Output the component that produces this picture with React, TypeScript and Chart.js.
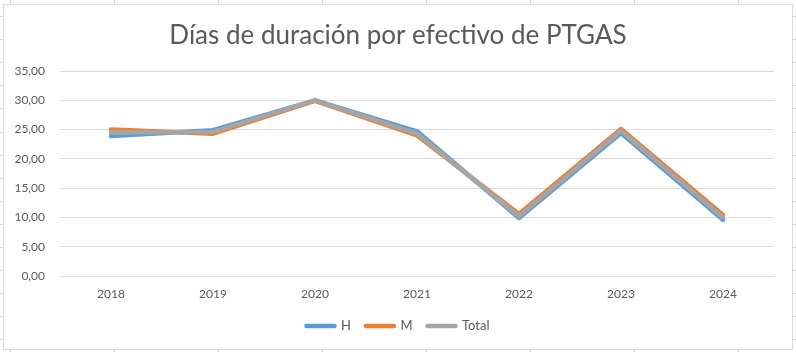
import React, { useEffect, useRef } from "react";
import { Chart, registerables } from "chart.js";

Chart.register(...registerables);

const title = "Días de duración por efectivo de PTGAS";
const categories = ["2018", "2019", "2020", "2021", "2022", "2023", "2024"];
const seriesH = [23.9, 24.9, 30.0, 24.7, 9.9, 24.4, 9.6];
const seriesM = [25.0, 24.3, 29.9, 24.0, 10.6, 25.1, 10.4];
const seriesTotal = [24.5, 24.6, 30.0, 24.3, 10.2, 24.8, 10.0];
const seriesNames = ["H", "M", "Total"];
const seriesColors = ["#5B9BD5", "#ED7D31", "#A5A5A5"];
const yMin = 0;
const yMax = 35;
const yStep = 5;

const FONT = "Lato, 'Noto Sans', sans-serif";
const TEXT = "#595959";

export default function App() {
  const ref = useRef<HTMLCanvasElement | null>(null);

  useEffect(() => {
    if (!ref.current) return;
    const values = [seriesH, seriesM, seriesTotal];
    const chart = new Chart(ref.current, {
      type: "line",
      data: {
        labels: categories,
        datasets: values.map((v, i) => ({
          label: seriesNames[i],
          data: v,
          yAxisID: "y",
          borderColor: seriesColors[i],
          backgroundColor: seriesColors[i],
          borderWidth: 4.5,
          pointRadius: 0,
          pointHoverRadius: 0,
          tension: 0,
          borderCapStyle: "round" as const,
          borderJoinStyle: "round" as const,
          order: 3 - i,
        })),
      },
      options: {
        animation: false,
        responsive: false,
        maintainAspectRatio: false,
        layout: { padding: { left: 4, right: 4, top: 4, bottom: 9.5 } },
        plugins: {
          title: {
            display: true,
            text: title,
            color: TEXT,
            font: { family: FONT, size: 26, weight: "normal", lineHeight: 1.2 },
            padding: { top: 16, bottom: 19.8 },
          },
          legend: {
            position: "bottom",
            labels: {
              color: TEXT,
              font: { family: FONT, size: 13 },
              usePointStyle: true,
              pointStyleWidth: 28,
              padding: 15,
              generateLabels: (c: any) =>
                c.data.datasets.map((d: any, i: number) => ({
                  text: d.label,
                  fillStyle: d.borderColor,
                  strokeStyle: d.borderColor,
                  lineWidth: 4.5,
                  lineCap: "round",
                  pointStyle: "line",
                  fontColor: TEXT,
                  hidden: false,
                  datasetIndex: i,
                })),
            },
          },
          tooltip: { enabled: false },
        },
        scales: {
          x: {
            offset: true,
            grid: { display: false, drawTicks: false },
            border: { display: false },
            ticks: { color: TEXT, font: { family: FONT, size: 12 }, padding: 11, maxRotation: 0 },
            afterFit: (s: any) => {
              s.height = 28.5;
            },
          },
          y: {
            min: yMin,
            max: yMax,
            grid: { color: "#D9D9D9", lineWidth: 1, drawTicks: false },
            border: { display: false },
            ticks: {
              stepSize: yStep,
              color: TEXT,
              font: { family: FONT, size: 12 },
              padding: 15,
              callback: (v: any) => Number(v).toFixed(2).replace(".", ","),
            },
            afterFit: (s: any) => {
              s.width = 56;
            },
          },
          yRight: {
            type: "linear",
            position: "right",
            grid: { display: false, drawTicks: false },
            border: { display: false },
            ticks: { display: false },
            afterFit: (s: any) => {
              s.width = 18;
            },
          },
        },
      },
    });
    return () => chart.destroy();
  }, []);

  const bg = {
    position: "absolute" as const,
    left: 0,
    top: 0,
    width: 796,
    height: 352,
    backgroundColor: "#ffffff",
    backgroundImage:
      "repeating-linear-gradient(to right, transparent 0px, transparent 10px, #D4D4D4 10px, #D4D4D4 11px, transparent 11px, transparent 104px), repeating-linear-gradient(to bottom, transparent 0px, transparent 16px, #D4D4D4 16px, #D4D4D4 17px, transparent 17px, transparent 23.1px)",
  };

  return (
    <div style={bg}>
      <div
        style={{
          position: "absolute",
          left: 3,
          top: 4,
          width: 790,
          height: 346,
          boxSizing: "border-box",
          border: "1px solid #D9D9D9",
          background: "#ffffff",
        }}
      />
      <canvas
        ref={ref}
        width={796}
        height={352}
        style={{ position: "absolute", left: 0, top: 0, width: 796, height: 352 }}
      />
    </div>
  );
}
